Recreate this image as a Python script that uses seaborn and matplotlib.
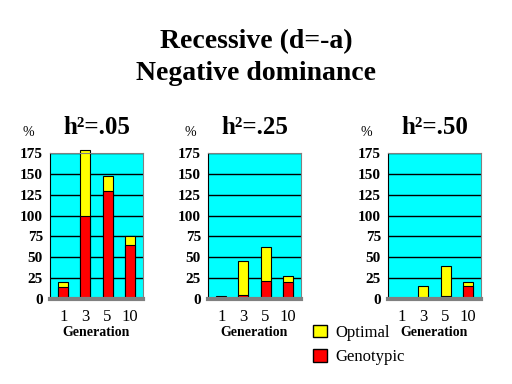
import seaborn as sns
import pandas as pd
import matplotlib
matplotlib.use("Agg")
import matplotlib.pyplot as plt
from matplotlib.patches import Patch

generations = ["1", "3", "5", "10"]
panels = ["h²=.05", "h²=.25", "h²=.50"]
# total height of stacked bar (optimal on top of genotypic)
total_05 = [20, 178, 148, 75]
geno_05 = [14, 100, 130, 65]
total_25 = [3, 45, 62, 28]
geno_25 = [2, 5, 22, 20]
total_50 = [1, 15, 40, 20]
geno_50 = [0, 0, 4, 15]

totals = [total_05, total_25, total_50]
genos = [geno_05, geno_25, geno_50]

SERIF = ["Liberation Serif", "DejaVu Serif"]
YELLOW = "#ffff00"
RED = "#ff0000"
CYAN = "#00ffff"

sns.set_style("white")
plt.rcParams["font.family"] = SERIF
for k in ["text.color", "axes.labelcolor", "xtick.color", "ytick.color"]:
    plt.rcParams[k] = "black"

fig = plt.figure(figsize=(5.12, 3.84), dpi=100)
fig.patch.set_facecolor("white")

fig.text(0.5, 1 - 42 / 384, "Recessive (d=-a)", ha="center", va="center",
         fontsize=20, weight="bold")
fig.text(0.5, 1 - 73 / 384, "Negative dominance", ha="center", va="center",
         fontsize=20, weight="bold")

lefts = [50, 208, 388]
pct_x = [28, 190, 366]
for i, name in enumerate(panels):
    df = pd.DataFrame({"gen": generations, "total": totals[i], "geno": genos[i]})
    ax = fig.add_axes([lefts[i] / 512, 1 - 299 / 384, 93 / 512, 146 / 384])
    ax.set_facecolor(CYAN)
    ax.set_axisbelow(True)
    ax.yaxis.grid(True, color="black", linewidth=1)
    sns.barplot(data=df, x="gen", y="total", color=YELLOW, edgecolor="black",
                linewidth=0.8, width=0.45, saturation=1, ax=ax)
    sns.barplot(data=df, x="gen", y="geno", color=RED, edgecolor="black",
                linewidth=0.8, width=0.45, saturation=1, ax=ax)
    for p in ax.patches:
        p.set_clip_on(False)
    ax.set_ylim(0, 175)
    ax.set_xlim(-0.6, 3.6)
    ax.set_yticks(range(0, 176, 25))
    ax.set_yticklabels([str(v) for v in range(0, 176, 25)], fontsize=11,
                       weight="bold")
    ax.tick_params(axis="x", labelsize=12, length=0, pad=7)
    ax.tick_params(axis="y", length=3, pad=2)
    ax.set_xlabel("Generation", fontsize=10, weight="bold", labelpad=1)
    ax.set_ylabel("")
    for s in ax.spines.values():
        s.set_color("gray")
    ax.spines["left"].set_color("black")
    ax.spines["bottom"].set_linewidth(3)
    ax.set_title(name, fontsize=18, weight="bold", pad=14)
    fig.text(pct_x[i] / 512, 1 - 132 / 384, "%", fontsize=10,
             ha="center", va="center")

handles = [Patch(facecolor=YELLOW, edgecolor="black", label="Optimal"),
           Patch(facecolor=RED, edgecolor="black", label="Genotypic")]
fig.legend(handles=handles, loc="center left",
           bbox_to_anchor=(305 / 512, 1 - 345 / 384),
           frameon=False, fontsize=12, handlelength=0.8, handleheight=0.8,
           handletextpad=0.5, labelspacing=0.5, borderpad=0)

plt.savefig("out.png", dpi=100)
plt.close()
